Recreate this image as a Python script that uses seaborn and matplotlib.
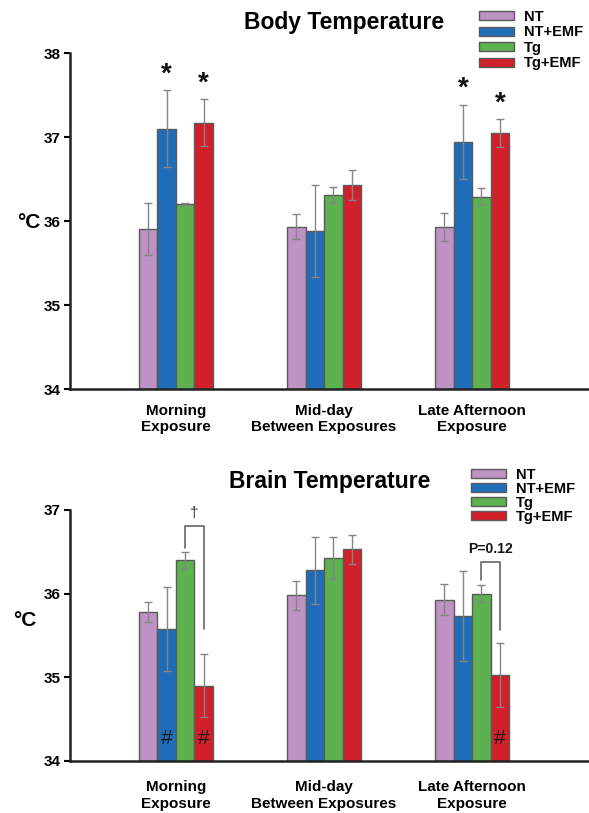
import matplotlib
matplotlib.use("Agg")
import matplotlib.pyplot as plt
from matplotlib.patches import Patch
import seaborn as sns
import pandas as pd

# Data
groups = ["Morning\nExposure", "Mid-day\nBetween Exposures", "Late Afternoon\nExposure"]
conditions = ["NT", "NT+EMF", "Tg", "Tg+EMF"]
colors = ["#BE92C3", "#1F6DB8", "#5DB14F", "#D12029"]

body_mean = {"NT": [35.90, 35.93, 35.93],
             "NT+EMF": [37.10, 35.88, 36.94],
             "Tg": [36.20, 36.31, 36.29],
             "Tg+EMF": [37.17, 36.43, 37.05]}
body_se = {"NT": [0.31, 0.15, 0.17],
           "NT+EMF": [0.46, 0.55, 0.44],
           "Tg": [0.01, 0.10, 0.10],
           "Tg+EMF": [0.28, 0.18, 0.17]}
brain_mean = {"NT": [35.78, 35.98, 35.93],
              "NT+EMF": [35.58, 36.28, 35.73],
              "Tg": [36.40, 36.43, 36.00],
              "Tg+EMF": [34.90, 36.53, 35.03]}
brain_se = {"NT": [0.12, 0.17, 0.18],
            "NT+EMF": [0.50, 0.40, 0.54],
            "Tg": [0.10, 0.25, 0.10],
            "Tg+EMF": [0.38, 0.17, 0.38]}

# significance marks: (group index, condition, y)
body_stars = [(0, "NT+EMF", 37.74), (0, "Tg+EMF", 37.64),
              (2, "NT+EMF", 37.57), (2, "Tg+EMF", 37.40)]
brain_hash = [(0, "NT+EMF", 34.27), (0, "Tg+EMF", 34.27), (2, "Tg+EMF", 34.27)]
# brackets: (group, left leg bottom, top, right leg bottom, label, label y)
brain_brackets = [(0, 36.55, 36.81, 35.58, "\u2020", 36.97),
                  (2, 36.16, 36.38, 35.57, "P=0.12", 36.53)]

sns.set_style("ticks")
plt.rcParams["font.family"] = ["Liberation Sans", "DejaVu Sans"]
plt.rcParams["font.weight"] = "bold"
plt.rcParams["text.color"] = "black"
plt.rcParams["xtick.color"] = "black"
plt.rcParams["ytick.color"] = "black"

fig = plt.figure(figsize=(5.89, 8.13), dpi=100)
ax1 = fig.add_axes([70 / 589, 1 - 389 / 813, 1 - 70 / 589, (389 - 53) / 813])
ax2 = fig.add_axes([70 / 589, 1 - 761 / 813, 1 - 70 / 589, (761 - 510) / 813])


def to_long(mean, se):
    rows = []
    for c in conditions:
        for g, m, s in zip(groups, mean[c], se[c]):
            rows.append({"group": g, "cond": c, "temp": m, "se": s})
    return pd.DataFrame(rows)


def bar_centers(ax):
    # container i -> hue level i, bars ordered by group
    out = {}
    for c, cont in zip(conditions, ax.containers):
        out[c] = [p.get_x() + p.get_width() / 2 for p in cont.patches]
    return out


def draw_panel(ax, mean, se, ylim, yticks, label_pad):
    df = to_long(mean, se)
    sns.barplot(data=df, x="group", y="temp", hue="cond", order=groups,
                hue_order=conditions, palette=colors, saturation=1, width=0.5,
                errorbar=None, edgecolor="#5a5a5a", linewidth=1.0,
                legend=False, ax=ax)
    # bars start at the bottom of the axis
    for p in ax.patches:
        p.set_y(ylim[0])
        p.set_height(p.get_height() - ylim[0])
    xs = bar_centers(ax)
    for c in conditions:
        ax.errorbar(xs[c], mean[c], yerr=se[c], fmt="none", ecolor="#858585",
                    elinewidth=1.0, capsize=3, capthick=1.0, zorder=5)
    ax.set_ylim(*ylim)
    ax.set_xlim(-0.716, 2.79)
    ax.set_yticks(yticks)
    ax.set_xlabel("")
    ax.set_ylabel("")
    for s in ["top", "right"]:
        ax.spines[s].set_visible(False)
    for s in ["left", "bottom"]:
        ax.spines[s].set_linewidth(1.8)
        ax.spines[s].set_color("#222222")
    ax.tick_params(axis="y", length=4, width=1.5, labelsize=11, pad=3)
    ax.tick_params(axis="x", length=0, labelsize=11, pad=label_pad)
    for t in ax.get_yticklabels() + ax.get_xticklabels():
        t.set_fontweight("bold")
    ax.set_facecolor("white")
    return xs


xs1 = draw_panel(ax1, body_mean, body_se, (34, 38), [34, 35, 36, 37, 38], 11)
xs2 = draw_panel(ax2, brain_mean, brain_se, (34, 37), [34, 35, 36, 37], 14)

for g, c, y in body_stars:
    ax1.text(xs1[c][g], y, "*", ha="center", va="center", fontsize=20,
             fontweight="bold", color="#111111")

for g, c, y in brain_hash:
    ax2.text(xs2[c][g], y, "#", ha="center", va="center", fontsize=15,
             fontweight="normal", color="#1a1a1a")

for g, yl, yt, yr, lab, ly in brain_brackets:
    xl, xr = xs2["Tg"][g], xs2["Tg+EMF"][g]
    ax2.plot([xl, xl, xr, xr], [yl, yt, yt, yr], color="#666666", lw=1.2,
             zorder=6)
    ax2.text((xl + xr) / 2, ly, lab, ha="center", va="center",
             fontsize=11 if lab == "\u2020" else 10,
             fontweight="normal" if lab == "\u2020" else "bold",
             color="#333333" if lab == "\u2020" else "#111111")

# titles and unit labels
fig.text(344 / 589, 1 - 22 / 813, "Body Temperature", ha="center", va="center",
         fontsize=16.5, fontweight="bold")
fig.text(330 / 589, 1 - 481 / 813, "Brain Temperature", ha="center", va="center",
         fontsize=16.5, fontweight="bold")
fig.text(29 / 589, 1 - 222 / 813, "\u00b0C", ha="center", va="center",
         fontsize=15, fontweight="bold")
fig.text(25 / 589, 1 - 620 / 813, "\u00b0C", ha="center", va="center",
         fontsize=15, fontweight="bold")

handles = [Patch(facecolor=col, edgecolor="#5a5a5a", linewidth=1.0, label=c)
           for c, col in zip(conditions, colors)]
fig.legend(handles=handles, loc="upper left",
           bbox_to_anchor=(479 / 589, 1 - 10 / 813), frameon=False,
           prop={"weight": "bold", "size": 10.5}, handlelength=2.4,
           handleheight=0.55, labelspacing=0.1, handletextpad=0.7,
           borderpad=0, borderaxespad=0)
fig.legend(handles=handles, loc="upper left",
           bbox_to_anchor=(471 / 589, 1 - 468 / 813), frameon=False,
           prop={"weight": "bold", "size": 10.5}, handlelength=2.4,
           handleheight=0.55, labelspacing=0.0, handletextpad=0.7,
           borderpad=0, borderaxespad=0)

fig.savefig("out.png", dpi=100, facecolor="white")
